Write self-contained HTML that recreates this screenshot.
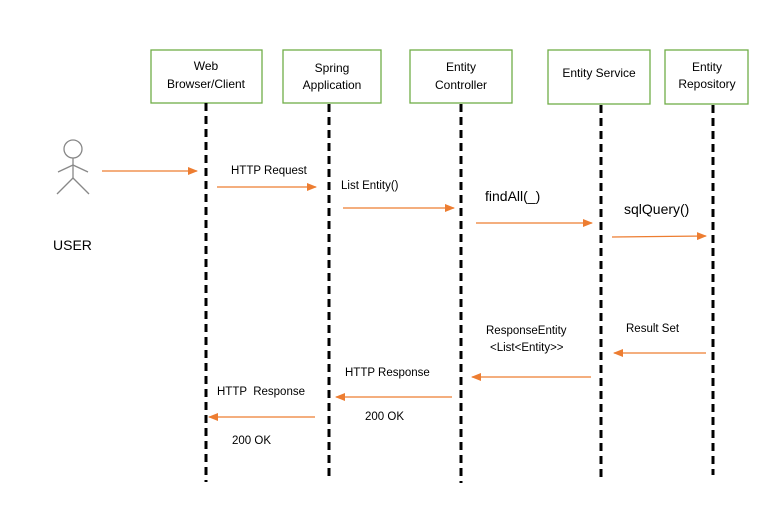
<!DOCTYPE html>
<html><head><style>html,body{margin:0;padding:0;background:#fff}</style></head>
<body>
<svg width="770" height="509" viewBox="0 0 770 509" xmlns="http://www.w3.org/2000/svg" font-family="Liberation Sans, sans-serif" font-size="11.5" fill="#000">
<defs><marker id="a" markerWidth="10" markerHeight="8" refX="9" refY="4" orient="auto" markerUnits="userSpaceOnUse"><path d="M0,0 L10,4 L0,8 z" fill="#ED7D31"/></marker></defs>
<g fill="#fff" stroke="#70AD47" stroke-width="1.3">
<rect x="151" y="50" width="111" height="53"/>
<rect x="283" y="50" width="98" height="53"/>
<rect x="410" y="50" width="102" height="53"/>
<rect x="548" y="50" width="102" height="54"/>
<rect x="665" y="50" width="83" height="54"/>
</g>
<g text-anchor="middle" font-size="12">
<text x="206" y="70">Web</text><text x="206" y="88">Browser/Client</text>
<text x="332" y="72">Spring</text><text x="332" y="89">Application</text>
<text x="461" y="71">Entity</text><text x="461" y="89">Controller</text>
<text x="599" y="77">Entity Service</text>
<text x="707" y="71">Entity</text><text x="707" y="88">Repository</text>
</g>
<g stroke="#000" stroke-width="3" stroke-dasharray="8,5">
<line x1="206" y1="103" x2="206" y2="482"/>
<line x1="329" y1="104" x2="329" y2="480"/>
<line x1="461" y1="104" x2="461" y2="483"/>
<line x1="601" y1="105" x2="601" y2="482"/>
<line x1="713" y1="105" x2="713" y2="475"/>
</g>
<g stroke="#888" stroke-width="1.3" fill="none">
<circle cx="73" cy="149" r="9"/>
<line x1="73" y1="158" x2="73" y2="179"/>
<line x1="58" y1="172" x2="73" y2="165"/><line x1="73" y1="165" x2="88" y2="172"/>
<line x1="73" y1="178" x2="57" y2="194"/><line x1="73" y1="178" x2="89" y2="194"/>
</g>
<text x="53" y="250" font-size="14">USER</text>
<g stroke="#ED7D31" stroke-width="1.3" marker-end="url(#a)">
<line x1="102" y1="171" x2="197" y2="171"/>
<line x1="217" y1="187" x2="316" y2="187"/>
<line x1="343" y1="208" x2="454" y2="208"/>
<line x1="476" y1="223" x2="592" y2="223"/>
<line x1="612" y1="237" x2="706" y2="236"/>
<line x1="706" y1="353" x2="614" y2="353"/>
<line x1="591" y1="377" x2="472" y2="377"/>
<line x1="452" y1="397" x2="336" y2="397"/>
<line x1="315" y1="417" x2="209" y2="417"/>
</g>
<text x="231" y="174">HTTP Request</text>
<text x="341" y="189">List Entity()</text>
<text x="485" y="201" font-size="14">findAll(_)</text>
<text x="624" y="214" font-size="14">sqlQuery()</text>
<text x="626" y="332">Result Set</text>
<text x="486" y="334">ResponseEntity</text>
<text x="490" y="351">&lt;List&lt;Entity&gt;&gt;</text>
<text x="345" y="376">HTTP Response</text>
<text x="365" y="420">200 OK</text>
<text x="217" y="395" xml:space="preserve">HTTP  Response</text>
<text x="232" y="444">200 OK</text>
</svg>
</body></html>
